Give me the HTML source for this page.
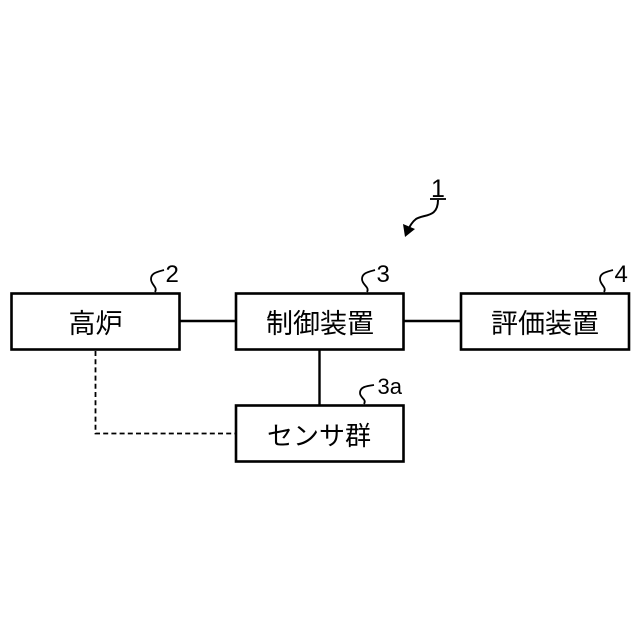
<!DOCTYPE html>
<html lang="ja">
<head>
<meta charset="utf-8">
<style>
html,body{margin:0;padding:0;background:#fff;width:640px;height:640px;overflow:hidden}
svg{display:block}
text{font-family:"Liberation Sans","Noto Sans CJK JP",sans-serif;fill:#000}
</style>
</head>
<body>
<svg width="640" height="640" viewBox="0 0 640 640" xmlns="http://www.w3.org/2000/svg">
<g fill="#fff" stroke="#000" stroke-width="2.6">
<rect x="11.5" y="293.5" width="168" height="56"/>
<rect x="236" y="293.5" width="167.5" height="56"/>
<rect x="461" y="293.5" width="168" height="56"/>
<rect x="236" y="405.5" width="167.5" height="56"/>
</g>
<g fill="none" stroke="#000" stroke-width="2.4">
<path d="M180 321H235"/>
<path d="M404 321H460"/>
<path d="M319.5 350V405"/>
</g>
<path d="M95.500 351V433.500H235" fill="none" stroke="#000" stroke-width="1.800" stroke-dasharray="5 3.200"/>
<g fill="none" stroke="#000" stroke-width="1.800">
<path d="M155 292C158 287 151 285 151 279C151 273 157 272 164 270"/>
<path d="M367 292C370 287 362 285 362 279C362 273 368 272 375 270"/>
<path d="M604 292C607 287 600 285 600 279C600 273 606 272 613 270"/>
<path d="M364 404C367 399 360 398 360 393C360 387 366 386 374 385"/>
</g>
<path d="M430 199H446" fill="none" stroke="#000" stroke-width="1.800"/>
<path d="M438 200C438 218 424 214 416 219C412 222 410 226 408 230" fill="none" stroke="#000" stroke-width="2"/>
<path d="M403 224L415 229L405 237Z" fill="#000"/>
<g font-size="24">
<text x="431" y="197" font-size="25">1</text>
<text x="165.500" y="282">2</text>
<text x="376.500" y="282">3</text>
<text x="614.500" y="282">4</text>
</g>
<text x="377.500" y="394" font-size="22">3a</text>
<g font-size="27" text-anchor="middle">
<text x="95.500" y="333">高炉</text>
<text x="320" y="333">制御装置</text>
<text x="545" y="333">評価装置</text>
<text x="319" y="445" font-size="26">センサ群</text>
</g>
</svg>
</body>
</html>
